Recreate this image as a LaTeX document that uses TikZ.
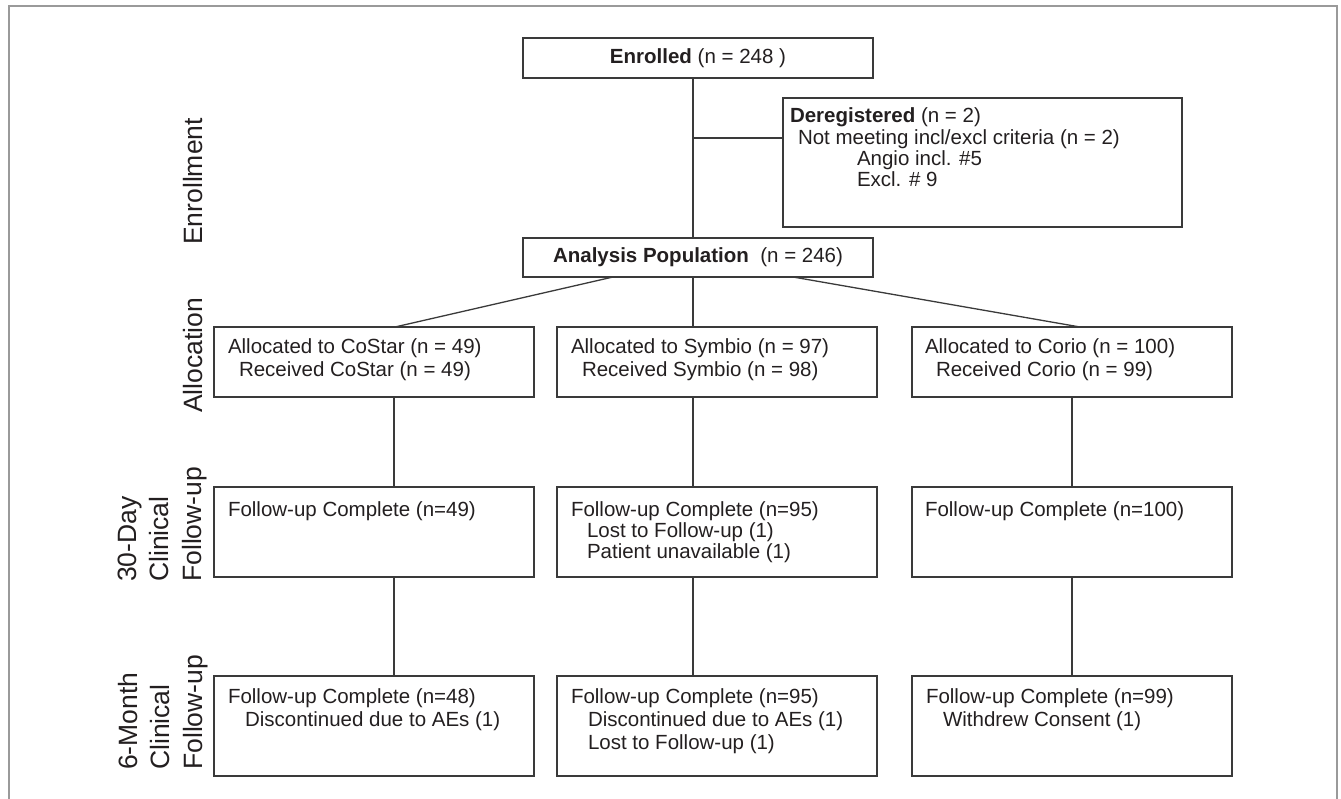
\documentclass[tikz,border=0pt]{standalone}
\usepackage{fontspec}
\setmainfont{Liberation Sans}
\usetikzlibrary{calc}
\definecolor{ln}{HTML}{3A3A3A}
\definecolor{tx}{HTML}{231F20}
\definecolor{fr}{HTML}{9A9A9A}
\newcommand\lns[2][22.5pt]{{\fontsize{20.5pt}{#1}\selectfont\begin{tabular}[t]{@{}l@{}}#2\end{tabular}}}
\begin{document}
\begin{tikzpicture}[x=1pt,y=-1pt,
  box/.style={draw=ln, line width=1.3pt, inner sep=0pt, outer sep=0pt, text=tx, font=\fontsize{20.5pt}{24pt}\selectfont},
  txt/.style={anchor=base west, inner sep=0pt, outer sep=0pt, text=tx},
  conn/.style={draw=ln, line width=1.3pt},
  side/.style={rotate=90, anchor=base west, inner sep=0pt, text=tx, font=\fontsize{26.5pt}{32.5pt}\selectfont}]
\useasboundingbox (0,0) rectangle (1341,799);
\draw[fr, line width=2pt] (9,799) -- (9,6) -- (1337,6) -- (1337,799);

% side labels
\node[side] (l1) at (202,245) {Enrollment};
\node[side] (l2) at (202,413) {Allocation};
\node[side] (l3) at (136,582) {\begin{tabular}[t]{@{}l@{}}30-Day\\Clinical\\Follow-up\end{tabular}};
\node[side] (l4) at (137,770) {\begin{tabular}[t]{@{}l@{}}6-Month\\Clinical\\Follow-up\end{tabular}};

% top
\node[box, minimum width=350pt, minimum height=40pt] (enr) at (698,58) {\textbf{Enrolled} (n = 248 )};
\node[box, minimum width=399pt, minimum height=129pt] (dereg) at (982.5,162.5) {};
\node[txt] (deregt) at (790,123) {\lns[21pt]{\textbf{Deregistered} (n = 2)\\\hspace{8pt}Not meeting incl/excl criteria (n = 2)\\\hspace{67pt}Angio incl. \#5\\\hspace{67pt}Excl. \# 9}};
\node[box, minimum width=350pt, minimum height=39pt] (ana) at (698,257.5) {\textbf{Analysis Population}\ \ (n = 246)};

% allocation
\node[box, minimum width=320pt, minimum height=70pt] (a1) at (374,362) {};
\node[box, minimum width=320pt, minimum height=70pt] (a2) at (717,362) {};
\node[box, minimum width=320pt, minimum height=70pt] (a3) at (1072,362) {};
\node[txt] (a1t) at (228,354) {\lns[23pt]{Allocated to CoStar (n = 49)\\\hspace{11pt}Received CoStar (n = 49)}};
\node[txt] (a2t) at (571,354) {\lns[23pt]{Allocated to Symbio (n = 97)\\\hspace{11pt}Received Symbio (n = 98)}};
\node[txt] (a3t) at (925,354) {\lns[23pt]{Allocated to Corio (n = 100)\\\hspace{11pt}Received Corio (n = 99)}};

% 30-day
\node[box, minimum width=320pt, minimum height=90pt] (b1) at (374,532) {};
\node[box, minimum width=320pt, minimum height=90pt] (b2) at (717,532) {};
\node[box, minimum width=320pt, minimum height=90pt] (b3) at (1072,532) {};
\node[txt] (b1t) at (228,516) {\lns[21pt]{Follow-up Complete (n=49)}};
\node[txt] (b2t) at (571,516) {\lns[21pt]{Follow-up Complete (n=95)\\\hspace{16pt}Lost to Follow-up (1)\\\hspace{16pt}Patient unavailable (1)}};
\node[txt] (b3t) at (925,516) {\lns[21pt]{Follow-up Complete (n=100)}};

% 6-month
\node[box, minimum width=320pt, minimum height=100pt] (c1) at (374,726) {};
\node[box, minimum width=320pt, minimum height=100pt] (c2) at (717,726) {};
\node[box, minimum width=320pt, minimum height=100pt] (c3) at (1072,726) {};
\node[txt] (c1t) at (228,703) {\lns[23pt]{Follow-up Complete (n=48)\\\hspace{17pt}Discontinued due to AEs (1)}};
\node[txt] (c2t) at (571,703) {\lns[23pt]{Follow-up Complete (n=95)\\\hspace{17pt}Discontinued due to AEs (1)\\\hspace{17pt}Lost to Follow-up (1)}};
\node[txt] (c3t) at (926,703) {\lns[23pt]{Follow-up Complete (n=99)\\\hspace{17pt}Withdrew Consent (1)}};

% connectors
\coordinate (sp) at (693,0);
\coordinate (br) at (693,138);
\coordinate (k1) at (394,0);
\coordinate (k3) at (1072,0);
\draw[conn] (enr.south -| sp) -- (ana.north -| sp);
\draw[conn] (br) -- (br -| dereg.west);
\draw[conn] ($(ana.south west)+(90,0)$) -- ($(a1.north)+(21,0)$);
\draw[conn] (ana.south -| sp) -- (a2.north -| sp);
\draw[conn] ($(ana.south east)+(-80,0)$) -- ($(a3.north)+(8,0)$);
\draw[conn] (a1.south -| k1) -- (b1.north -| k1);
\draw[conn] (b1.south -| k1) -- (c1.north -| k1);
\draw[conn] (a2.south -| sp) -- (b2.north -| sp);
\draw[conn] (b2.south -| sp) -- (c2.north -| sp);
\draw[conn] (a3.south -| k3) -- (b3.north -| k3);
\draw[conn] (b3.south -| k3) -- (c3.north -| k3);
\end{tikzpicture}
\end{document}
